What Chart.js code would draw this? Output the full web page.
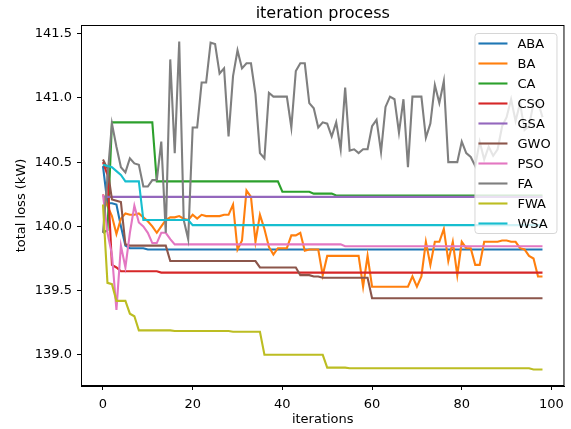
<!DOCTYPE html>
<html>
<head>
<meta charset="utf-8">
<title>iteration process</title>
<script src="https://cdn.jsdelivr.net/npm/chart.js@4.4.1/dist/chart.umd.min.js"></script>
<style>
  html, body { margin: 0; padding: 0; background: #ffffff; }
  #lossChart { display: block; }
</style>
</head>
<body>
<canvas id="lossChart" width="571" height="429"></canvas>
<script>
/* -------------------------------------------------------------------------- */
/* DATA                                                                       */
/* -------------------------------------------------------------------------- */
const algorithms = ['ABA', 'BA', 'CA', 'CSO', 'GSA', 'GWO', 'PSO', 'FA', 'FWA', 'WSA'];
const iterations = Array.from({ length: 99 }, (_, i) => i);
const xTicks = [0, 20, 40, 60, 80, 100];
const yTicks = [139.0, 139.5, 140.0, 140.5, 141.0, 141.5];

const lossABA = [
  140.47, 140.18, 140.18, 140.17, 140.00, 139.85, 139.83, 139.83, 139.83, 139.83,
  139.82, 139.82, 139.82, 139.82, 139.82, 139.82, 139.82, 139.82, 139.82, 139.82,
  139.82, 139.82, 139.82, 139.82, 139.82, 139.82, 139.82, 139.82, 139.82, 139.82,
  139.82, 139.82, 139.82, 139.82, 139.82, 139.82, 139.82, 139.82, 139.82, 139.82,
  139.82, 139.82, 139.82, 139.82, 139.82, 139.82, 139.82, 139.82, 139.82, 139.82,
  139.82, 139.82, 139.82, 139.82, 139.82, 139.82, 139.82, 139.82, 139.82, 139.82,
  139.82, 139.82, 139.82, 139.82, 139.82, 139.82, 139.82, 139.82, 139.82, 139.82,
  139.82, 139.82, 139.82, 139.82, 139.82, 139.82, 139.82, 139.82, 139.82, 139.82,
  139.82, 139.82, 139.82, 139.82, 139.82, 139.82, 139.82, 139.82, 139.82, 139.82,
  139.82, 139.82, 139.82, 139.82, 139.82, 139.82, 139.82, 139.82, 139.82
];
const lossBA = [
  140.25, 140.16, 140.08, 139.94, 140.06, 140.10, 140.09, 140.09, 140.10, 140.07,
  140.04, 140.00, 139.95, 140.00, 140.05, 140.07, 140.07, 140.08, 140.06, 140.05,
  140.09, 140.06, 140.09, 140.08, 140.08, 140.08, 140.08, 140.09, 140.09, 140.17,
  139.82, 139.89, 140.28, 140.23, 139.88, 140.09, 139.98, 139.84, 139.78, 139.83,
  139.83, 139.83, 139.93, 139.93, 139.95, 139.81, 139.82, 139.82, 139.82, 139.62,
  139.77, 139.77, 139.77, 139.77, 139.77, 139.77, 139.77, 139.77, 139.53, 139.77,
  139.53, 139.53, 139.53, 139.53, 139.53, 139.53, 139.53, 139.53, 139.53, 139.61,
  139.53, 139.61, 139.88, 139.70, 139.88, 139.88, 139.98, 139.73, 139.88, 139.62,
  139.88, 139.83, 139.83, 139.70, 139.70, 139.88, 139.88, 139.88, 139.88, 139.89,
  139.89, 139.88, 139.88, 139.83, 139.82, 139.77, 139.75, 139.61, 139.61
];
const lossCA = [
  139.95, 139.97, 140.81, 140.81, 140.81, 140.81, 140.81, 140.81, 140.81, 140.81,
  140.81, 140.81, 140.35, 140.35, 140.35, 140.35, 140.35, 140.35, 140.35, 140.35,
  140.35, 140.35, 140.35, 140.35, 140.35, 140.35, 140.35, 140.35, 140.35, 140.35,
  140.35, 140.35, 140.35, 140.35, 140.35, 140.35, 140.35, 140.35, 140.35, 140.35,
  140.27, 140.27, 140.27, 140.27, 140.27, 140.27, 140.27, 140.255, 140.255, 140.255,
  140.255, 140.255, 140.24, 140.24, 140.24, 140.24, 140.24, 140.24, 140.24, 140.24,
  140.24, 140.24, 140.24, 140.24, 140.24, 140.24, 140.24, 140.24, 140.24, 140.24,
  140.24, 140.24, 140.24, 140.24, 140.24, 140.24, 140.24, 140.24, 140.24, 140.24,
  140.24, 140.24, 140.24, 140.24, 140.24, 140.24, 140.24, 140.24, 140.24, 140.24,
  140.24, 140.24, 140.24, 140.24, 140.24, 140.24, 140.24, 140.24, 140.24
];
const lossCSO = [
  140.50, 140.40, 139.70, 139.68, 139.65, 139.65, 139.65, 139.65, 139.65, 139.65,
  139.65, 139.65, 139.65, 139.64, 139.64, 139.64, 139.64, 139.64, 139.64, 139.64,
  139.64, 139.64, 139.64, 139.64, 139.64, 139.64, 139.64, 139.64, 139.64, 139.64,
  139.64, 139.64, 139.64, 139.64, 139.64, 139.64, 139.64, 139.64, 139.64, 139.64,
  139.64, 139.64, 139.64, 139.64, 139.64, 139.64, 139.64, 139.64, 139.64, 139.64,
  139.64, 139.64, 139.64, 139.64, 139.64, 139.64, 139.64, 139.64, 139.64, 139.64,
  139.64, 139.64, 139.64, 139.64, 139.64, 139.64, 139.64, 139.64, 139.64, 139.64,
  139.64, 139.64, 139.64, 139.64, 139.64, 139.64, 139.64, 139.64, 139.64, 139.64,
  139.64, 139.64, 139.64, 139.64, 139.64, 139.64, 139.64, 139.64, 139.64, 139.64,
  139.64, 139.64, 139.64, 139.64, 139.64, 139.64, 139.64, 139.64, 139.64
];
const lossGSA = [
  140.23, 140.23, 140.23, 140.23, 140.23, 140.23, 140.23, 140.23, 140.23, 140.23,
  140.23, 140.23, 140.23, 140.23, 140.23, 140.23, 140.23, 140.23, 140.23, 140.23,
  140.23, 140.23, 140.23, 140.23, 140.23, 140.23, 140.23, 140.23, 140.23, 140.23,
  140.23, 140.23, 140.23, 140.23, 140.23, 140.23, 140.23, 140.23, 140.23, 140.23,
  140.23, 140.23, 140.23, 140.23, 140.23, 140.23, 140.23, 140.23, 140.23, 140.23,
  140.23, 140.23, 140.23, 140.23, 140.23, 140.23, 140.23, 140.23, 140.23, 140.23,
  140.23, 140.23, 140.23, 140.23, 140.23, 140.23, 140.23, 140.23, 140.23, 140.23,
  140.23, 140.23, 140.23, 140.23, 140.23, 140.23, 140.23, 140.23, 140.23, 140.23,
  140.23, 140.23, 140.23, 140.23, 140.23, 140.23, 140.23, 140.23, 140.23, 140.23,
  140.23, 140.23, 140.23, 140.23, 140.23, 140.23, 140.23, 140.23, 140.23
];
const lossGWO = [
  140.52, 140.45, 140.21, 140.20, 140.19, 139.86, 139.85, 139.85, 139.85, 139.85,
  139.85, 139.85, 139.85, 139.85, 139.85, 139.73, 139.73, 139.73, 139.73, 139.73,
  139.73, 139.73, 139.73, 139.73, 139.73, 139.73, 139.73, 139.73, 139.73, 139.73,
  139.73, 139.73, 139.73, 139.73, 139.73, 139.68, 139.68, 139.68, 139.68, 139.68,
  139.68, 139.68, 139.68, 139.68, 139.62, 139.62, 139.62, 139.61, 139.61, 139.60,
  139.60, 139.60, 139.60, 139.60, 139.60, 139.60, 139.60, 139.60, 139.60, 139.60,
  139.44, 139.44, 139.44, 139.44, 139.44, 139.44, 139.44, 139.44, 139.44, 139.44,
  139.44, 139.44, 139.44, 139.44, 139.44, 139.44, 139.44, 139.44, 139.44, 139.44,
  139.44, 139.44, 139.44, 139.44, 139.44, 139.44, 139.44, 139.44, 139.44, 139.44,
  139.44, 139.44, 139.44, 139.44, 139.44, 139.44, 139.44, 139.44, 139.44
];
const lossPSO = [
  140.25, 139.95, 139.78, 139.35, 139.85, 139.68, 139.95, 140.16, 140.03, 140.00,
  139.95, 139.87, 139.87, 139.95, 139.95, 139.90, 139.86, 139.86, 139.86, 139.86,
  139.86, 139.86, 139.86, 139.86, 139.86, 139.86, 139.86, 139.86, 139.86, 139.86,
  139.86, 139.86, 139.86, 139.86, 139.86, 139.86, 139.86, 139.86, 139.86, 139.86,
  139.86, 139.86, 139.86, 139.86, 139.86, 139.86, 139.86, 139.86, 139.86, 139.86,
  139.86, 139.86, 139.86, 139.86, 139.845, 139.845, 139.845, 139.845, 139.845, 139.845,
  139.845, 139.845, 139.845, 139.845, 139.845, 139.845, 139.845, 139.845, 139.845, 139.845,
  139.845, 139.845, 139.845, 139.845, 139.845, 139.845, 139.845, 139.845, 139.845, 139.845,
  139.845, 139.845, 139.845, 139.845, 139.845, 139.845, 139.845, 139.845, 139.845, 139.845,
  139.845, 139.845, 139.845, 139.845, 139.845, 139.845, 139.845, 139.845, 139.845
];
const lossFA = [
  139.95, 140.38, 140.80, 140.62, 140.46, 140.42, 140.53, 140.49, 140.48, 140.31,
  140.31, 140.36, 140.36, 140.66, 139.95, 141.30, 140.57, 141.44, 140.05, 139.90,
  140.77, 140.77, 141.12, 141.12, 141.43, 141.42, 141.19, 141.23, 140.70, 141.17,
  141.37, 141.23, 141.27, 141.27, 141.03, 140.57, 140.53, 141.04, 141.01, 141.01,
  141.01, 141.01, 140.77, 141.21, 141.27, 141.27, 140.96, 140.92, 140.77, 140.81,
  140.80, 140.70, 140.81, 140.60, 141.08, 140.59, 140.60, 140.57, 140.60, 140.60,
  140.78, 140.83, 140.58, 140.93, 141.01, 140.99, 140.73, 140.99, 140.46, 141.01,
  141.01, 141.01, 140.69, 140.80, 141.10, 140.96, 141.13, 140.50, 140.50, 140.50,
  140.66, 140.57, 140.54, 140.47, 140.66, 140.52, 140.62, 140.55, 140.60, 140.78,
  140.85, 140.99, 140.82, 140.96, 140.75, 140.78, 140.96, 140.97, 140.85
];
const lossFWA = [
  140.17, 139.56, 139.55, 139.42, 139.42, 139.42, 139.32, 139.30, 139.19, 139.19,
  139.19, 139.19, 139.19, 139.19, 139.19, 139.19, 139.185, 139.185, 139.185, 139.185,
  139.185, 139.185, 139.185, 139.185, 139.185, 139.185, 139.185, 139.185, 139.185, 139.18,
  139.18, 139.18, 139.18, 139.18, 139.18, 139.18, 139.00, 139.00, 139.00, 139.00,
  139.00, 139.00, 139.00, 139.00, 139.00, 139.00, 139.00, 139.00, 139.00, 139.00,
  138.90, 138.90, 138.90, 138.90, 138.90, 138.895, 138.895, 138.895, 138.895, 138.895,
  138.895, 138.895, 138.895, 138.895, 138.895, 138.895, 138.895, 138.895, 138.895, 138.895,
  138.895, 138.895, 138.895, 138.895, 138.895, 138.895, 138.895, 138.895, 138.895, 138.895,
  138.895, 138.895, 138.895, 138.895, 138.895, 138.895, 138.895, 138.895, 138.895, 138.895,
  138.895, 138.895, 138.895, 138.895, 138.895, 138.895, 138.885, 138.885, 138.885
];
const lossWSA = [
  140.48, 140.47, 140.46, 140.43, 140.40, 140.35, 140.35, 140.35, 140.35, 140.05,
  140.05, 140.05, 140.05, 140.05, 140.05, 140.05, 140.05, 140.05, 140.05, 140.05,
  140.01, 140.01, 140.01, 140.01, 140.01, 140.01, 140.01, 140.01, 140.01, 140.01,
  140.01, 140.01, 140.01, 140.01, 140.01, 140.01, 140.01, 140.01, 140.01, 140.01,
  140.01, 140.01, 140.01, 140.01, 140.01, 140.01, 140.01, 140.01, 140.01, 140.01,
  140.01, 140.01, 140.01, 140.01, 140.01, 140.01, 140.01, 140.01, 140.01, 140.01,
  140.01, 140.01, 140.01, 140.01, 140.01, 140.01, 140.01, 140.01, 140.01, 140.01,
  140.01, 140.01, 140.01, 140.01, 140.01, 140.01, 140.01, 140.01, 140.01, 140.01,
  140.01, 140.01, 140.01, 140.01, 140.01, 140.01, 140.01, 140.01, 140.01, 140.01,
  140.01, 140.01, 140.01, 140.01, 140.01, 140.01, 140.01, 140.01, 140.01
];

const seriesValues = [lossABA, lossBA, lossCA, lossCSO, lossGSA, lossGWO, lossPSO, lossFA, lossFWA, lossWSA];
const seriesColors = ['#1f77b4', '#ff7f0e', '#2ca02c', '#d62728', '#9467bd',
                      '#8c564b', '#e377c2', '#7f7f7f', '#bcbd22', '#17becf'];

/* -------------------------------------------------------------------------- */
/* STYLE                                                                      */
/* -------------------------------------------------------------------------- */
const FONT_FAMILY = "'DejaVu Sans', 'Liberation Sans', sans-serif";
const LINE_WIDTH = 2.1;

// frame, title on top of the plot area, legend box inside the upper right corner
const matplotlibLook = {
    id: 'matplotlibLook',
    afterDraw(chart) {
        const { ctx, chartArea: a } = chart;
        ctx.save();

        ctx.strokeStyle = '#000000';
        ctx.lineWidth = 1;
        ctx.strokeRect(a.left + 0.5, a.top + 0.5, a.right - a.left - 1, a.bottom - a.top - 1);

        ctx.fillStyle = '#000000';
        ctx.font = '16px ' + FONT_FAMILY;
        ctx.textAlign = 'center';
        ctx.textBaseline = 'alphabetic';
        ctx.fillText('iteration process', (a.left + a.right) / 2, 18);

        const box = { x: a.right - 90, y: a.top + 8, w: 82, h: 200 };
        ctx.beginPath();
        ctx.roundRect(box.x + 0.5, box.y + 0.5, box.w, box.h, 3);
        ctx.fillStyle = 'rgba(255, 255, 255, 0.8)';
        ctx.fill();
        ctx.strokeStyle = '#d6d6d6';
        ctx.lineWidth = 1;
        ctx.stroke();

        ctx.font = '13px ' + FONT_FAMILY;
        ctx.textAlign = 'left';
        ctx.textBaseline = 'middle';
        chart.data.datasets.forEach((ds, k) => {
            const y = box.y + 10.5 + k * 20;
            ctx.beginPath();
            ctx.moveTo(box.x + 4, y);
            ctx.lineTo(box.x + 33, y);
            ctx.strokeStyle = ds.borderColor;
            ctx.lineWidth = LINE_WIDTH;
            ctx.stroke();
            ctx.fillStyle = '#000000';
            ctx.fillText(ds.label, box.x + 43, y + 1);
        });

        ctx.restore();
    }
};

/* -------------------------------------------------------------------------- */
/* CHART                                                                      */
/* -------------------------------------------------------------------------- */
const datasets = algorithms.map((name, i) => ({
    label: name,
    data: iterations.map((it, j) => ({ x: it, y: seriesValues[i][j] })),
    borderColor: seriesColors[i],
    backgroundColor: seriesColors[i],
    borderWidth: LINE_WIDTH,
    pointRadius: 0,
    tension: 0,
    fill: false,
    order: -i   // later series drawn on top, like matplotlib
}));

const tickFont = { family: FONT_FAMILY, size: 13 };

new Chart(document.getElementById('lossChart').getContext('2d'), {
    type: 'line',
    data: { datasets: datasets },
    plugins: [matplotlibLook],
    options: {
        responsive: false,
        animation: false,
        layout: { padding: { top: 25, right: 5, bottom: 0, left: 0 } },
        plugins: {
            legend: { display: false },
            tooltip: { enabled: false },
            title: { display: false }
        },
        scales: {
            x: {
                type: 'linear',
                min: -4.9,
                max: 102.9,
                afterBuildTicks: s => { s.ticks = xTicks.map(v => ({ value: v })); },
                afterFit: s => { s.height = 43; },
                grid: { display: true, drawOnChartArea: false, drawTicks: true, tickLength: 4, color: '#000000' },
                border: { display: true, color: '#000000', width: 1 },
                ticks: {
                    color: '#000000', font: tickFont, padding: 7,
                    maxRotation: 0, autoSkip: false,
                    callback: v => String(v)
                },
                title: {
                    display: true, text: 'iterations', color: '#000000',
                    font: tickFont, padding: { top: 0, bottom: 2 }
                }
            },
            y: {
                type: 'linear',
                min: 138.757,
                max: 141.568,
                afterBuildTicks: s => { s.ticks = yTicks.map(v => ({ value: v })); },
                afterFit: s => { s.width = 81; },
                grid: { display: true, drawOnChartArea: false, drawTicks: true, tickLength: 4, color: '#000000' },
                border: { display: true, color: '#000000', width: 1 },
                ticks: {
                    color: '#000000', font: tickFont, padding: 5,
                    autoSkip: false,
                    callback: v => v.toFixed(1)
                },
                title: {
                    display: true, text: 'total loss (kW)', color: '#000000',
                    font: tickFont, padding: { top: 14, bottom: 0 }
                }
            }
        }
    }
});
</script>
</body>
</html>
